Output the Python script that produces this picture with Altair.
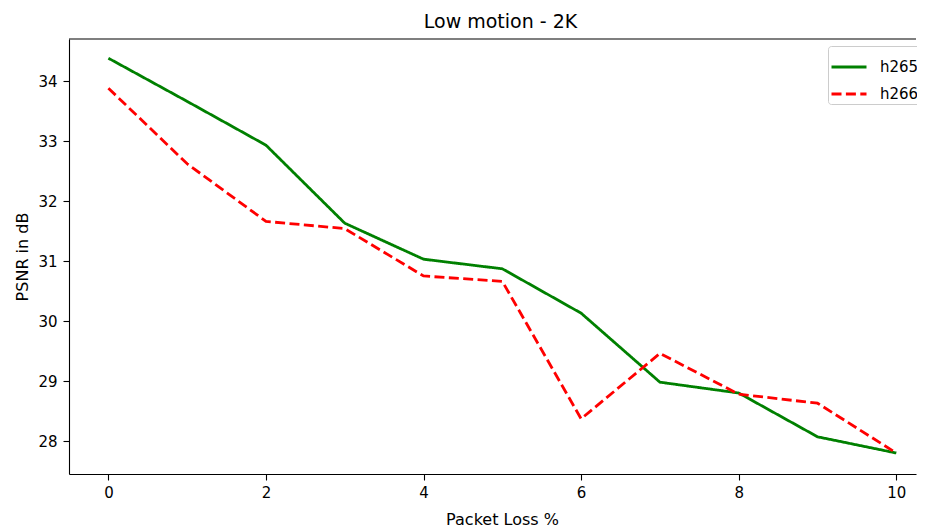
import altair as alt
import pandas as pd

loss = list(range(11))
h265 = [34.38, 33.66, 32.93, 31.63, 31.03, 30.87, 30.13, 28.98, 28.80, 28.07, 27.80]
h266 = [33.88, 32.62, 31.66, 31.54, 30.75, 30.66, 28.37, 29.46, 28.78, 28.63, 27.80]
codecs = ["h265", "h266"]
x_ticks = [0, 2, 4, 6, 8, 10]
y_ticks = [28, 29, 30, 31, 32, 33, 34]

df = pd.DataFrame({
    "loss": loss * 2,
    "psnr": h265 + h266,
    "codec": [codecs[0]] * len(loss) + [codecs[1]] * len(loss),
})

FONT = "DejaVu Sans"
W, H = 847, 435

xscale = alt.Scale(domain=[-0.5, 10.25], nice=False, zero=False)
yscale = alt.Scale(domain=[27.45, 34.7], nice=False, zero=False)

lines = alt.Chart(df).mark_line(strokeWidth=2.8, clip=True).encode(
    x=alt.X("loss:Q", scale=xscale,
            axis=alt.Axis(values=x_ticks, title="Packet Loss %", titleX=433, titleY=45,
                          titleBaseline="middle", titleAlign="center", format="d",
                          labelPadding=5)),
    y=alt.Y("psnr:Q", scale=yscale,
            axis=alt.Axis(values=y_ticks, title="PSNR in dB", titleX=-47, titleY=H / 2,
                          titleAlign="center", titleBaseline="middle", format="d",
                          labelPadding=6)),
    color=alt.Color("codec:N",
                    scale=alt.Scale(domain=codecs, range=["#008000", "#ff0000"]),
                    legend=alt.Legend(title=None)),
    strokeDash=alt.StrokeDash("codec:N",
                              scale=alt.Scale(domain=codecs, range=[[1, 0], [10, 4.4]]),
                              legend=alt.Legend(title=None)),
)

# top frame line of the axes box (the right side lies outside the reference picture)
frame_top = alt.Chart(pd.DataFrame({"edge": ["top"]})).mark_rule(
    color="#000000", strokeWidth=1.1
).encode(x=alt.value(0), x2=alt.value(W), y=alt.value(0))

chart = alt.layer(lines, frame_top).properties(
    width=W, height=H,
    autosize=alt.AutoSizeParams(type="none"),
    padding={"left": 61, "top": 31, "right": 1, "bottom": 54},
    title=alt.Title("Low motion - 2K", fontSize=19, font=FONT, fontWeight="normal",
                    color="#000000", frame="group", anchor="middle", dx=8, offset=-9,
                    baseline="alphabetic"),
).configure_view(stroke=None).configure_axis(
    grid=False, domainColor="#000000", domainWidth=1.1, tickColor="#000000",
    tickSize=6, tickWidth=1.1, labelFont=FONT, labelFontSize=15, labelColor="#000000",
    titleFont=FONT, titleFontSize=16, titleFontWeight="normal",
    titleColor="#000000",
).configure_legend(
    orient="none", legendX=759, legendY=7, fillColor="#ffffff", strokeColor="#cccccc",
    cornerRadius=3, padding=2, symbolType="stroke", symbolSize=1225,
    symbolStrokeWidth=2.8, labelFont=FONT, labelFontSize=15, labelColor="#000000",
    labelOffset=12, rowPadding=-1,
)

chart.save("out.html", embed_options={"renderer": "svg", "actions": False})
